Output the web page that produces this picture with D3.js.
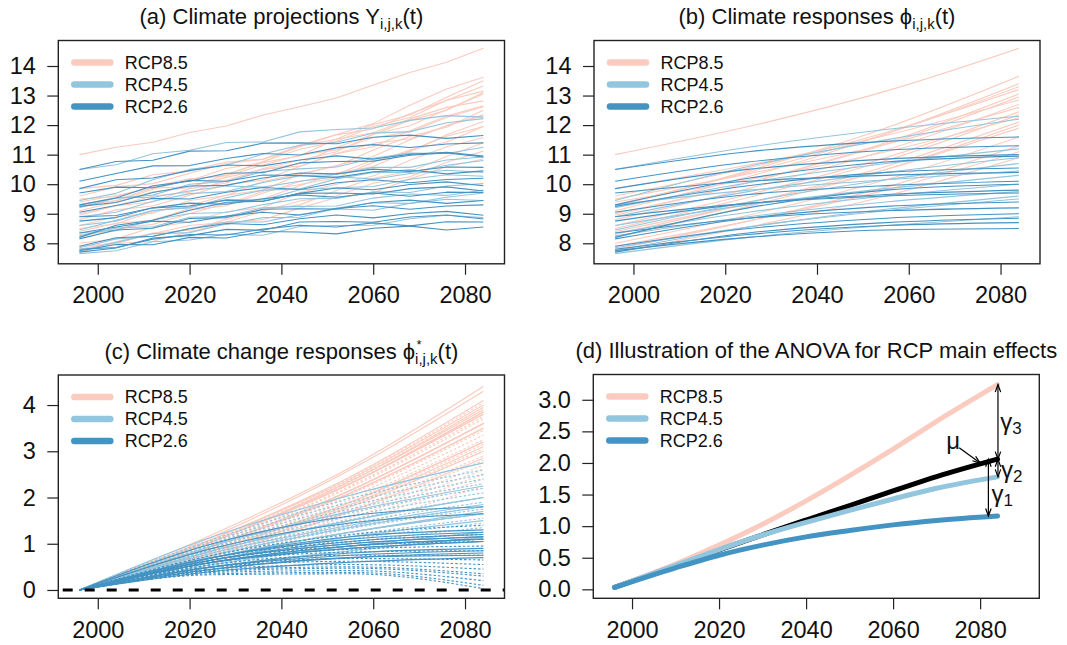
<!DOCTYPE html>
<html>
<head>
<meta charset="utf-8">
<script src="https://cdn.jsdelivr.net/npm/d3@7"></script>
<style>
  body { margin: 0; background: #fff; }
  svg { display: block; font-family: "Liberation Sans", Arial, "DejaVu Sans", sans-serif; }
</style>
</head>
<body>
<div id="plot"></div>
<script>
const rcpNames = ["RCP8.5", "RCP4.5", "RCP2.6"];
const rcpColors = ["#FACBBE", "#92C5DE", "#4393C3"];
const xTicks = [2000, 2020, 2040, 2060, 2080];

// (a) raw projections, one value every 8 years
const projYears = [1996, 2004, 2012, 2020, 2028, 2036, 2044, 2052, 2060, 2068, 2076, 2084];
const projRcp85 = [
  [11.0, 11.25, 11.42, 11.75, 11.97, 12.34, 12.62, 12.92, 13.36, 13.78, 14.13, 14.6],
  [9.25, 9.45, 9.89, 10.12, 10.53, 10.74, 11.32, 11.68, 12.05, 12.67, 13.22, 13.62],
  [9.1, 9.4, 9.74, 9.89, 10.33, 10.73, 10.96, 11.53, 12.02, 12.34, 12.94, 13.5],
  [9.3, 9.43, 9.83, 10.16, 10.32, 10.77, 11.18, 11.45, 11.95, 12.26, 12.84, 13.32],
  [9.6, 9.91, 10.02, 10.37, 10.7, 10.84, 11.27, 11.67, 11.87, 12.38, 12.84, 13.15],
  [8.95, 9.27, 9.4, 9.85, 10.04, 10.53, 10.81, 11.1, 11.68, 12.16, 12.5, 13.1],
  [9.0, 9.28, 9.6, 9.73, 10.13, 10.5, 10.7, 11.24, 11.69, 11.98, 12.53, 13.05],
  [9.85, 9.96, 10.32, 10.45, 10.75, 10.85, 11.3, 11.52, 11.74, 12.21, 12.6, 12.82],
  [8.8, 9.13, 9.26, 9.63, 9.98, 10.14, 10.6, 11.03, 11.27, 11.81, 12.31, 12.65],
  [9.5, 9.58, 9.92, 10.18, 10.28, 10.65, 10.98, 11.16, 11.57, 11.77, 12.26, 12.62],
  [8.6, 8.9, 9.02, 9.45, 9.62, 10.09, 10.35, 10.61, 11.16, 11.62, 11.93, 12.5],
  [8.5, 8.66, 9.07, 9.27, 9.63, 9.8, 10.33, 10.63, 10.94, 11.5, 11.99, 12.32],
  [9.4, 9.62, 9.87, 9.91, 10.23, 10.51, 10.61, 11.04, 11.38, 11.54, 11.97, 12.35],
  [8.3, 8.42, 8.8, 9.12, 9.27, 9.7, 10.09, 10.34, 10.82, 11.1, 11.67, 12.12],
  [8.2, 8.52, 8.64, 9.01, 9.35, 9.51, 9.95, 10.38, 10.6, 11.13, 11.62, 11.95],
  [8.4, 8.68, 8.78, 9.18, 9.33, 9.76, 9.99, 10.22, 10.74, 11.16, 11.43, 11.95],
  [8.0, 8.15, 8.54, 8.72, 9.07, 9.21, 9.72, 10.0, 10.28, 10.81, 11.27, 11.57],
  [7.8, 8.05, 8.35, 8.44, 8.81, 9.14, 9.3, 9.79, 10.2, 10.44, 10.94, 11.4],
  [7.9, 7.99, 8.33, 8.6, 8.71, 9.09, 9.43, 9.61, 10.03, 10.25, 10.74, 11.12],
  [7.7, 7.99, 8.07, 8.39, 8.69, 8.8, 9.19, 9.55, 9.71, 10.18, 10.59, 10.85]
];
const projRcp45 = [
  [10.5, 10.66, 11.03, 11.15, 11.41, 11.43, 11.77, 11.85, 11.9, 12.16, 12.32, 12.27],
  [9.45, 9.69, 10.15, 10.5, 10.64, 11.02, 11.32, 11.42, 11.73, 11.78, 12.08, 12.22],
  [9.2, 9.53, 9.63, 10.0, 10.09, 10.43, 10.52, 10.58, 10.88, 11.05, 11.04, 11.25],
  [8.45, 8.78, 9.11, 9.2, 9.54, 9.8, 9.84, 10.18, 10.4, 10.4, 10.64, 10.8],
  [9.3, 9.54, 9.56, 9.77, 9.94, 9.9, 10.1, 10.25, 10.17, 10.36, 10.47, 10.4],
  [8.6, 8.75, 9.11, 9.22, 9.47, 9.47, 9.81, 9.88, 9.92, 10.17, 10.32, 10.27],
  [8.35, 8.45, 8.79, 9.01, 9.04, 9.31, 9.51, 9.52, 9.74, 9.72, 9.94, 10.02],
  [8.25, 8.52, 8.56, 8.88, 8.91, 9.2, 9.25, 9.26, 9.53, 9.67, 9.62, 9.8],
  [7.75, 8.03, 8.32, 8.36, 8.65, 8.87, 8.88, 9.19, 9.37, 9.35, 9.56, 9.7],
  [7.85, 8.15, 8.23, 8.5, 8.72, 8.72, 8.97, 9.16, 9.12, 9.35, 9.49, 9.45],
  [7.65, 7.75, 8.05, 8.11, 8.31, 8.27, 8.57, 8.6, 8.61, 8.83, 8.95, 8.87],
  [8.9, 9.05, 9.42, 9.68, 9.75, 10.06, 10.29, 10.33, 10.57, 10.57, 10.82, 10.92]
];
const projRcp26 = [
  [10.5, 10.77, 10.81, 11.12, 11.13, 11.39, 11.4, 11.37, 11.59, 11.66, 11.55, 11.65],
  [10.1, 10.36, 10.62, 10.63, 10.87, 11.04, 10.99, 11.23, 11.34, 11.24, 11.36, 11.4],
  [9.85, 10.15, 10.21, 10.46, 10.65, 10.62, 10.82, 10.96, 10.85, 11.01, 11.08, 10.95],
  [9.3, 9.53, 9.95, 10.1, 10.37, 10.39, 10.72, 10.77, 10.78, 10.98, 11.06, 10.92],
  [9.25, 9.38, 9.72, 9.94, 9.96, 10.21, 10.38, 10.35, 10.51, 10.43, 10.58, 10.57],
  [9.7, 9.9, 9.88, 10.13, 10.1, 10.31, 10.29, 10.23, 10.42, 10.48, 10.35, 10.45],
  [9.05, 9.28, 9.52, 9.5, 9.73, 9.89, 9.82, 10.05, 10.15, 10.05, 10.16, 10.2],
  [8.2, 8.61, 8.78, 9.12, 9.39, 9.42, 9.69, 9.87, 9.81, 9.99, 10.08, 9.95],
  [8.75, 8.87, 9.2, 9.26, 9.46, 9.42, 9.69, 9.7, 9.67, 9.85, 9.91, 9.77],
  [8.9, 8.94, 9.2, 9.36, 9.32, 9.51, 9.64, 9.56, 9.7, 9.59, 9.73, 9.72],
  [8.15, 8.45, 8.51, 8.84, 8.87, 9.15, 9.17, 9.16, 9.38, 9.46, 9.35, 9.45],
  [8.35, 8.55, 8.75, 8.71, 8.92, 9.05, 8.96, 9.18, 9.27, 9.15, 9.26, 9.3],
  [7.9, 8.19, 8.24, 8.49, 8.67, 8.63, 8.83, 8.96, 8.86, 9.01, 9.08, 8.95],
  [7.7, 7.84, 8.18, 8.26, 8.47, 8.44, 8.72, 8.74, 8.71, 8.89, 8.96, 8.82],
  [7.8, 7.86, 8.14, 8.3, 8.28, 8.48, 8.61, 8.55, 8.69, 8.59, 8.73, 8.72],
  [7.75, 7.96, 7.95, 8.2, 8.18, 8.4, 8.38, 8.32, 8.51, 8.58, 8.45, 8.55]
];

// (b) smooth responses, read at four years
const knotYears = [1996, 2025, 2055, 2084];
const respRcp85 = [
  [11.0, 11.95, 13.15, 14.6], [9.25, 10.45, 11.9, 13.65], [9.1, 10.25, 11.7, 13.4],
  [9.3, 10.4, 11.7, 13.3], [9.6, 10.55, 11.75, 13.2], [8.95, 10.05, 11.4, 13.05],
  [9.0, 10.05, 11.35, 12.95], [9.85, 10.65, 11.65, 12.85], [8.8, 9.85, 11.15, 12.7],
  [9.5, 10.35, 11.35, 12.6], [8.6, 9.65, 10.9, 12.45], [8.5, 9.55, 10.8, 12.35],
  [9.4, 10.15, 11.1, 12.25], [8.3, 9.35, 10.6, 12.1], [8.2, 9.25, 10.5, 12.0],
  [8.4, 9.35, 10.5, 11.9], [8.0, 8.95, 10.15, 11.6], [7.8, 8.75, 9.9, 11.3],
  [7.9, 8.75, 9.8, 11.1], [7.7, 8.55, 9.6, 10.9]
];
const respRcp45 = [
  [10.5, 11.25, 11.85, 12.3], [9.45, 10.6, 11.5, 12.2], [9.2, 10.05, 10.7, 11.2],
  [8.45, 9.4, 10.15, 10.7], [9.3, 9.8, 10.15, 10.45], [8.6, 9.3, 9.85, 10.3],
  [8.35, 9.05, 9.6, 10.0], [8.25, 8.9, 9.4, 9.75], [7.75, 8.55, 9.15, 9.6],
  [7.85, 8.55, 9.1, 9.5], [7.65, 8.2, 8.6, 8.9], [8.9, 9.75, 10.4, 10.9]
];
const respRcp26 = [
  [10.5, 11.1, 11.45, 11.6], [10.1, 10.75, 11.15, 11.3], [9.85, 10.5, 10.85, 11.0],
  [9.3, 10.2, 10.75, 10.95], [9.25, 9.95, 10.4, 10.55], [9.7, 10.1, 10.3, 10.4],
  [9.05, 9.65, 9.95, 10.1], [8.2, 9.2, 9.8, 10.0], [8.75, 9.35, 9.65, 9.8],
  [8.9, 9.35, 9.6, 9.7], [8.15, 8.85, 9.25, 9.4], [8.35, 8.85, 9.1, 9.2],
  [7.9, 8.5, 8.85, 9.0], [7.7, 8.35, 8.7, 8.85], [7.8, 8.3, 8.6, 8.7],
  [7.75, 8.2, 8.45, 8.5]
];

// (c) extra (dotted) change responses, same four years
const augRcp85 = [
  [0, 1.09, 2.43, 4.05], [0, 1.07, 2.37, 3.95], [0, 1.04, 2.31, 3.85], [0, 1.01, 2.25, 3.75],
  [0, 1.0, 2.22, 3.7], [0, 0.97, 2.16, 3.6], [0, 0.95, 2.1, 3.5], [0, 0.93, 2.07, 3.45],
  [0, 0.9, 2.01, 3.35], [0, 0.88, 1.95, 3.25], [0, 0.85, 1.89, 3.15], [0, 0.82, 1.83, 3.05],
  [0, 0.81, 1.8, 3.0], [0, 0.78, 1.74, 2.9], [0, 0.76, 1.68, 2.8], [0, 0.73, 1.62, 2.7],
  [0, 0.7, 1.56, 2.6], [0, 0.68, 1.5, 2.5], [0, 0.65, 1.44, 2.4], [0, 0.61, 1.35, 2.25]
];
const augRcp45 = [
  [0, 1.09, 1.98, 2.6], [0, 1.05, 1.9, 2.5], [0, 1.01, 1.82, 2.4], [0, 0.97, 1.75, 2.3],
  [0, 0.92, 1.67, 2.2], [0, 0.88, 1.6, 2.1], [0, 0.84, 1.52, 2.0], [0, 0.8, 1.44, 1.9],
  [0, 0.76, 1.37, 1.8], [0, 0.74, 1.33, 1.75], [0, 0.69, 1.25, 1.65], [0, 0.65, 1.18, 1.55],
  [0, 0.61, 1.1, 1.45], [0, 0.57, 1.03, 1.35], [0, 0.53, 0.95, 1.25], [0, 0.46, 0.84, 1.1]
];
const augRcp26 = [
  [0, 0.75, 1.2, 1.4], [0, 0.7, 1.05, 1.2], [0, 0.65, 0.95, 1.05], [0, 0.6, 0.88, 0.95],
  [0, 0.6, 0.82, 0.85], [0, 0.55, 0.75, 0.75], [0, 0.5, 0.68, 0.65], [0, 0.5, 0.62, 0.55],
  [0, 0.45, 0.55, 0.45], [0, 0.42, 0.5, 0.35], [0, 0.4, 0.47, 0.3], [0, 0.38, 0.42, 0.2],
  [0, 0.35, 0.38, 0.1], [0, 0.33, 0.35, 0.03]
];

// (d) RCP main effects
const effYears = [1996, 2010, 2020, 2030, 2040, 2050, 2060, 2070, 2084];
const effRcp85 = [0.03, 0.40, 0.70, 1.03, 1.40, 1.80, 2.22, 2.66, 3.24];
const effRcp45 = [0.03, 0.38, 0.63, 0.86, 1.06, 1.25, 1.43, 1.60, 1.78];
const effRcp26 = [0.03, 0.34, 0.54, 0.70, 0.83, 0.93, 1.02, 1.09, 1.16];

const W = 1067, H = 645;
const svg = d3.select("#plot").append("svg").attr("width", W).attr("height", H);

function makePanel(box, xDom, yDom, yTicks, yFmt) {
  const x = d3.scaleLinear().domain(xDom).range([box.l, box.r]);
  const y = d3.scaleLinear().domain(yDom).range([box.b, box.t]);
  const g = svg.append("g");

  const xa = svg.append("g")
    .attr("transform", `translate(0,${box.b})`)
    .call(d3.axisBottom(x).tickValues(xTicks).tickFormat(d3.format("d"))
      .tickSize(11).tickPadding(12));
  const ya = svg.append("g")
    .attr("transform", `translate(${box.l},0)`)
    .call(d3.axisLeft(y).tickValues(yTicks).tickFormat(yFmt)
      .tickSize(11).tickPadding(11.5));
  [xa, ya].forEach(a => {
    a.attr("font-size", 23.5).attr("font-family", null);
    a.select(".domain").remove();
    a.selectAll("line").attr("stroke", "#222").attr("stroke-width", 1.2);
    a.selectAll("text").attr("fill", "#111");
  });
  return { g, x, y, box };
}

function drawBox(p) {
  svg.append("rect")
    .attr("x", p.box.l).attr("y", p.box.t)
    .attr("width", p.box.r - p.box.l).attr("height", p.box.b - p.box.t)
    .attr("fill", "none").attr("stroke", "#222").attr("stroke-width", 1.4);
}

function legend(p) {
  const lg = svg.append("g");
  rcpNames.forEach((name, i) => {
    const yy = p.box.t + 22 + i * 22;
    lg.append("line")
      .attr("x1", p.box.l + 16).attr("x2", p.box.l + 52)
      .attr("y1", yy).attr("y2", yy)
      .attr("stroke", rcpColors[i]).attr("stroke-width", 6.5)
      .attr("stroke-linecap", "round");
    lg.append("text")
      .attr("x", p.box.l + 66.5).attr("y", yy)
      .attr("dominant-baseline", "central")
      .attr("font-size", 18).attr("fill", "#111")
      .text(name);
  });
}

function title(p, parts) {
  const t = svg.append("text")
    .attr("x", (p.box.l + p.box.r) / 2).attr("y", p.box.t - 16.5)
    .attr("text-anchor", "middle").attr("font-size", 22).attr("fill", "#111");
  parts.forEach(s => {
    const ts = t.append("tspan").text(s.text);
    if (s.size) ts.attr("font-size", s.size);
    if (s.dy) ts.attr("dy", s.dy);
    if (s.dx) ts.attr("dx", s.dx);
  });
  return t;
}

function series(p, years, rows, color, width, curve, dash) {
  const line = d3.line()
    .x((d, i) => p.x(years[i]))
    .y(d => p.y(d))
    .curve(curve);
  p.g.append("g").selectAll("path").data(rows).join("path")
    .attr("d", line)
    .attr("fill", "none")
    .attr("stroke", color)
    .attr("stroke-width", width)
    .attr("stroke-dasharray", dash || null)
    .attr("stroke-linejoin", "round");
}

const xDomTop = [1991.4, 2088.6];

// (a)
const pa = makePanel({ l: 58.3, r: 504.5, t: 40.5, b: 263.8 }, xDomTop, [7.306, 14.863],
  d3.range(8, 15), d3.format("d"));
[projRcp85, projRcp45, projRcp26].forEach((rows, k) =>
  series(pa, projYears, rows, rcpColors[k], 1.1, d3.curveLinear));
legend(pa); drawBox(pa);
title(pa, [{ text: "(a) Climate projections Y" }, { text: "i,j,k", size: 15, dy: 5 }, { text: "(t)", size: 22, dy: -5 }]);

// (b)
const pb = makePanel({ l: 594, r: 1040, t: 40.5, b: 263.8 }, xDomTop, [7.306, 14.863],
  d3.range(8, 15), d3.format("d"));
[respRcp85, respRcp45, respRcp26].forEach((rows, k) =>
  series(pb, knotYears, rows, rcpColors[k], 1.1, d3.curveMonotoneX));
legend(pb); drawBox(pb);
title(pb, [{ text: "(b) Climate responses \u03D5" }, { text: "i,j,k", size: 15, dy: 5 }, { text: "(t)", size: 22, dy: -5 }]);

// (c) change responses: each response minus its 1996 value
const pc = makePanel({ l: 58.3, r: 504.5, t: 375, b: 598.3 }, xDomTop, [-0.18, 4.65],
  d3.range(0, 5), d3.format("d"));
const augs = [augRcp85, augRcp45, augRcp26];
[respRcp85, respRcp45, respRcp26].forEach((rows, k) => {
  series(pc, knotYears, augs[k], rcpColors[k], 1.1, d3.curveMonotoneX, "2.5,2");
  const change = rows.map(r => r.map(v => v - r[0]));
  series(pc, knotYears, change, rcpColors[k], 1.1, d3.curveMonotoneX);
});
svg.append("line")
  .attr("x1", pc.box.l).attr("x2", pc.box.r)
  .attr("y1", pc.y(0)).attr("y2", pc.y(0))
  .attr("stroke", "#000").attr("stroke-width", 3)
  .attr("stroke-dasharray", "10,12").attr("stroke-dashoffset", 17.6);
legend(pc); drawBox(pc);
// the star sits above the subscript, as in the printed formula
const tc = title(pc, [{ text: "(c) Climate change responses \u03D5" },
  { text: "i,j,k", size: 15, dy: 5 }, { text: "(t)", size: 22, dy: -5 }]);
const phiEnd = tc.node().getSubStringLength ? null : null;
{
  const tsp = tc.selectAll("tspan").nodes();
  const bb = tsp[1].getBBox();
  svg.append("text")
    .attr("x", bb.x + 1.5).attr("y", bb.y - 1)
    .attr("font-size", 13).attr("fill", "#111")
    .text("*");
}

// (d)
const pd = makePanel({ l: 593.3, r: 1039.3, t: 374.5, b: 598.3 }, [1991.1, 2093.6], [-0.142, 3.40],
  d3.range(0, 3.01, 0.5), d3.format(".1f"));
const effs = [effRcp85, effRcp45, effRcp26];
const grandMean = effYears.map((yr, i) => d3.mean(effs, e => e[i]));
series(pd, effYears, [grandMean], "#000", 5, d3.curveMonotoneX);
effs.forEach((e, k) => series(pd, effYears, [e], rcpColors[k], 5, d3.curveMonotoneX));
pd.g.selectAll("path").attr("stroke-linecap", "round");

function arrow(x1, y1, x2, y2, both) {
  const ag = svg.append("g").attr("stroke", "#000").attr("fill", "none").attr("stroke-width", 1.2);
  ag.append("line").attr("x1", x1).attr("y1", y1).attr("x2", x2).attr("y2", y2);
  const head = (xa, ya, xb, yb) => {
    const ang = Math.atan2(yb - ya, xb - xa), L = 8, A = Math.PI / 9;
    ag.append("path").attr("d", d3.line()([
      [xb - L * Math.cos(ang - A), yb - L * Math.sin(ang - A)],
      [xb, yb],
      [xb - L * Math.cos(ang + A), yb - L * Math.sin(ang + A)]
    ]));
  };
  head(x1, y1, x2, y2);
  if (both) head(x2, y2, x1, y1);
}
const last = effYears.length - 1;
const muEnd = grandMean[last];
arrow(pd.x(2084.1), pd.y(effRcp85[last]), pd.x(2084.1), pd.y(muEnd), true);
arrow(pd.x(2084.1), pd.y(muEnd), pd.x(2084.1), pd.y(effRcp45[last]), true);
arrow(pd.x(2081.9), pd.y(muEnd), pd.x(2081.9), pd.y(effRcp26[last]), true);
arrow(pd.x(2075.2), pd.y(2.24), pd.x(2080), pd.y(2.0), false);

function greek(x, y, sym, sub) {
  const t = svg.append("text").attr("x", x).attr("y", y)
    .attr("font-size", 24).attr("fill", "#111").text(sym);
  if (sub) t.append("tspan").attr("font-size", 17).attr("dy", 4).text(sub);
  return t;
}
greek(pd.x(2073.8), pd.y(2.22), "\u03BC").attr("text-anchor", "middle");
greek(pd.x(2084.6), pd.y(2.52), "\u03B3", "3");
greek(pd.x(2084.8), pd.y(1.76), "\u03B3", "2");
greek(pd.x(2082.6), pd.y(1.38), "\u03B3", "1");

legend(pd); drawBox(pd);
title(pd, [{ text: "(d) Illustration of the ANOVA for RCP main effects" }]);
</script>
</body>
</html>
